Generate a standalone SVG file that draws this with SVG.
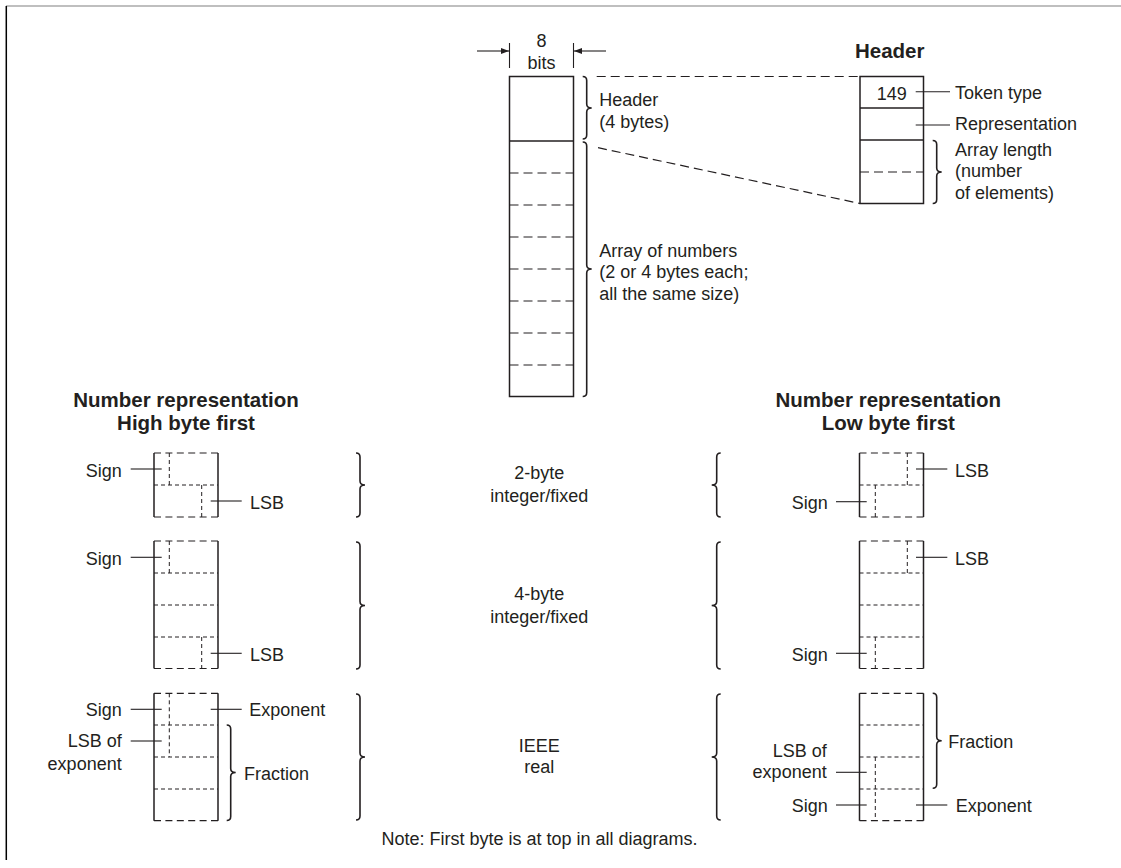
<svg xmlns="http://www.w3.org/2000/svg" width="1121" height="868" viewBox="0 0 1121 868">
<style>
text{font-family:"Liberation Sans",Arial,sans-serif;font-size:18px;fill:#231f20}
.b{font-weight:bold;font-size:20.5px}
.m{text-anchor:middle}
.e{text-anchor:end}
.s{stroke:#231f20;stroke-width:1.5;fill:none}
.thin{stroke:#231f20;stroke-width:1.1;fill:none}
.dm{stroke:#231f20;stroke-width:1.2;stroke-dasharray:9 5;fill:none}
.db{stroke:#231f20;stroke-width:1.2;stroke-dasharray:7 4.4;fill:none}
.df{stroke:#231f20;stroke-width:1;stroke-dasharray:4 3;fill:none}
.br{stroke:#231f20;stroke-width:1.6;fill:none}
</style>
<defs>
<marker id="ah" viewBox="0 0 8 6" refX="8" refY="3" markerWidth="8" markerHeight="6" markerUnits="userSpaceOnUse" orient="auto">
<path d="M0,0 L8,3 L0,6 Z" fill="#231f20"/>
</marker>
</defs>
<g id="frame">
<line x1="6" y1="6" x2="1121" y2="6" stroke="#aaaaaa" stroke-width="1.3"/>
<line x1="6.3" y1="6" x2="6.3" y2="860" stroke="#000" stroke-width="1.5"/>
</g>
<g id="bits-width">
<line class="thin" x1="509.5" y1="43" x2="509.5" y2="68"/>
<line class="thin" x1="573.5" y1="43" x2="573.5" y2="68"/>
<line class="thin" x1="477" y1="51" x2="509" y2="51" marker-end="url(#ah)"/>
<line class="thin" x1="606" y1="51" x2="574" y2="51" marker-end="url(#ah)"/>
<text class="m" x="541.5" y="47">8</text>
<text class="m" x="541.5" y="69">bits</text>
</g>
<g id="main-column">
<rect class="s" x="509.5" y="76.5" width="64" height="320"/>
<line class="s" x1="509.5" y1="141" x2="573.5" y2="141"/>
<path class="dm" d="M509.5,173H573.5M509.5,205H573.5M509.5,237H573.5M509.5,269H573.5M509.5,301H573.5M509.5,333H573.5M509.5,365H573.5"/>
<path class="br" d="M582.7,76.5 Q586.7,76.5 586.7,80.5 V104 Q586.7,108 591.7,108 Q586.7,108 586.7,112 V135 Q586.7,139 582.7,139"/>
<path class="br" d="M582.7,142 Q586.7,142 586.7,146 V265 Q586.7,269 591.7,269 Q586.7,269 586.7,273 V392.5 Q586.7,396.5 582.7,396.5"/>
<text x="599.3" y="106">Header</text>
<text x="599.3" y="128">(4 bytes)</text>
<text x="599.3" y="256.5">Array of numbers</text>
<text x="599.3" y="278">(2 or 4 bytes each;</text>
<text x="599.3" y="299.5">all the same size)</text>
</g>
<g id="header-detail">
<text class="b m" x="889.7" y="58">Header</text>
<rect class="s" x="860" y="76.5" width="63.5" height="127"/>
<line class="s" x1="860" y1="108" x2="923.5" y2="108"/>
<line class="s" x1="860" y1="140" x2="923.5" y2="140"/>
<line class="dm" x1="860" y1="172" x2="923.5" y2="172"/>
<text x="876.7" y="100">149</text>
<path class="br" d="M932.7,140.5 Q936.7,140.5 936.7,144.5 V168 Q936.7,172 941.7,172 Q936.7,172 936.7,176 V199.5 Q936.7,203.5 932.7,203.5"/>
<text x="955" y="99">Token type</text>
<text x="955" y="130">Representation</text>
<text x="955" y="155.5">Array length</text>
<text x="955" y="177">(number</text>
<text x="955" y="198.5">of elements)</text>
</g>
<g id="connectors">
<line class="dm" x1="596.7" y1="76.5" x2="860" y2="76.5"/>
<line class="dm" x1="598" y1="147.7" x2="860" y2="203.5"/>
<line class="thin" x1="915.7" y1="91.7" x2="950" y2="91.7"/>
<line class="thin" x1="915.7" y1="125" x2="950" y2="125"/>
<line class="thin" x1="130.7" y1="469" x2="161.7" y2="469"/>
<line class="thin" x1="210.7" y1="501" x2="241.7" y2="501"/>
<line class="thin" x1="130.7" y1="557.3" x2="161.7" y2="557.3"/>
<line class="thin" x1="210.7" y1="653.3" x2="241.7" y2="653.3"/>
<line class="thin" x1="130.7" y1="709.3" x2="161.7" y2="709.3"/>
<line class="thin" x1="130.7" y1="741" x2="161.7" y2="741"/>
<line class="thin" x1="210.7" y1="709.3" x2="241.7" y2="709.3"/>
<line class="thin" x1="916" y1="469" x2="947.3" y2="469"/>
<line class="thin" x1="836" y1="501.7" x2="866.7" y2="501.7"/>
<line class="thin" x1="916" y1="557.3" x2="947.3" y2="557.3"/>
<line class="thin" x1="836" y1="653.3" x2="866.7" y2="653.3"/>
<line class="thin" x1="836" y1="772.3" x2="866.7" y2="772.3"/>
<line class="thin" x1="836" y1="805" x2="866.7" y2="805"/>
<line class="thin" x1="916" y1="805" x2="947.3" y2="805"/>
</g>
<g id="title-high">
<text class="b m" x="186" y="406.5">Number representation</text>
<text class="b m" x="186" y="430">High byte first</text>
</g>
<g id="title-low">
<text class="b m" x="888.3" y="406.5">Number representation</text>
<text class="b m" x="888.3" y="430">Low byte first</text>
</g>
<g id="high-2byte">
<path class="s" d="M154,453V517M218,453V517"/>
<path class="db" d="M154,453H218M154,517H218"/>
<path class="df" d="M154,485H218M169.3,453V485M201.7,485V517"/>
<text class="e" x="121.7" y="476.5">Sign</text>
<text x="250" y="508.5">LSB</text>
</g>
<g id="high-4byte">
<path class="s" d="M154,541V668.5M218,541V668.5"/>
<path class="db" d="M154,541H218M154,668.5H218"/>
<path class="df" d="M154,573H218M154,605H218M154,637H218M169.3,541V573M201.7,637V668.5"/>
<text class="e" x="121.7" y="564.5">Sign</text>
<text x="250" y="661">LSB</text>
</g>
<g id="high-ieee">
<path class="s" d="M154,693.3V820.7M218,693.3V820.7"/>
<path class="db" d="M154,693.3H218M154,820.7H218"/>
<path class="df" d="M154,725H218M154,757H218M154,789H218M169.3,693.3V757"/>
<path class="br" d="M226.7,725 Q230.7,725 230.7,729 V768.5 Q230.7,772.5 235.7,772.5 Q230.7,772.5 230.7,776.5 V816.5 Q230.7,820.5 226.7,820.5"/>
<text class="e" x="121.7" y="716">Sign</text>
<text class="e" x="121.7" y="747">LSB of</text>
<text class="e" x="121.7" y="770">exponent</text>
<text x="249.3" y="716">Exponent</text>
<text x="244" y="780">Fraction</text>
</g>
<g id="low-2byte">
<path class="s" d="M859.5,453V517M923.5,453V517"/>
<path class="db" d="M859.5,453H923.5M859.5,517H923.5"/>
<path class="df" d="M859.5,485H923.5M907.3,453V485M875.3,485V517"/>
<text x="955" y="476.5">LSB</text>
<text class="e" x="827.7" y="509">Sign</text>
</g>
<g id="low-4byte">
<path class="s" d="M859.5,541V668.5M923.5,541V668.5"/>
<path class="db" d="M859.5,541H923.5M859.5,668.5H923.5"/>
<path class="df" d="M859.5,573H923.5M859.5,605H923.5M859.5,637H923.5M907.3,541V573M875.3,637V668.5"/>
<text x="955" y="564.5">LSB</text>
<text class="e" x="827.7" y="661">Sign</text>
</g>
<g id="low-ieee">
<path class="s" d="M859.5,693.3V820.7M923.5,693.3V820.7"/>
<path class="db" d="M859.5,693.3H923.5M859.5,820.7H923.5"/>
<path class="df" d="M859.5,725H923.5M859.5,757H923.5M859.5,789H923.5M875.3,757V820.7"/>
<path class="br" d="M932.7,693.3 Q936.7,693.3 936.7,697.3 V736.7 Q936.7,740.7 941.7,740.7 Q936.7,740.7 936.7,744.7 V784.3 Q936.7,788.3 932.7,788.3"/>
<text x="948.3" y="748">Fraction</text>
<text class="e" x="826.7" y="756.7">LSB of</text>
<text class="e" x="826.7" y="778.3">exponent</text>
<text class="e" x="827.7" y="812">Sign</text>
<text x="955.7" y="812">Exponent</text>
</g>
<g id="format-2byte">
<path class="br" d="M356,453 Q360,453 360,457 V481 Q360,485 365,485 Q360,485 360,489 V513 Q360,517 356,517"/>
<path class="br" d="M720.7,453 Q716.7,453 716.7,457 V481 Q716.7,485 711.7,485 Q716.7,485 716.7,489 V513 Q716.7,517 720.7,517"/>
<text class="m" x="539.3" y="479">2-byte</text>
<text class="m" x="539.3" y="501.5">integer/fixed</text>
</g>
<g id="format-4byte">
<path class="br" d="M356,542 Q360,542 360,546 V601.5 Q360,605.5 365,605.5 Q360,605.5 360,609.5 V665 Q360,669 356,669"/>
<path class="br" d="M720.7,542 Q716.7,542 716.7,546 V601.5 Q716.7,605.5 711.7,605.5 Q716.7,605.5 716.7,609.5 V665 Q716.7,669 720.7,669"/>
<text class="m" x="539.3" y="600">4-byte</text>
<text class="m" x="539.3" y="622.5">integer/fixed</text>
</g>
<g id="format-ieee">
<path class="br" d="M356,694 Q360,694 360,698 V753 Q360,757 365,757 Q360,757 360,761 V816 Q360,820 356,820"/>
<path class="br" d="M720.7,694 Q716.7,694 716.7,698 V753 Q716.7,757 711.7,757 Q716.7,757 716.7,761 V816 Q716.7,820 720.7,820"/>
<text class="m" x="539.3" y="751.5">IEEE</text>
<text class="m" x="539.3" y="773">real</text>
</g>
<g id="note">
<text class="m" x="539.5" y="845">Note: First byte is at top in all diagrams.</text>
</g>
</svg>
